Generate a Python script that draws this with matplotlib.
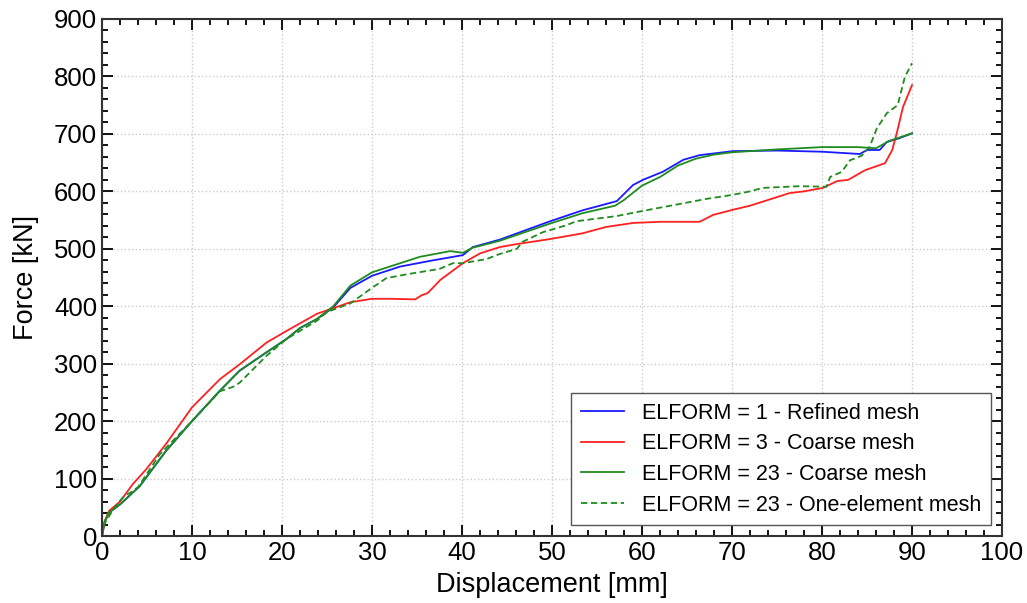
import matplotlib.pyplot as plt
from matplotlib.ticker import MultipleLocator

plt.rcParams['font.family'] = ['Liberation Sans', 'DejaVu Sans']

# ELFORM = 1 - Refined mesh
refined_x = [0, 0.3, 0.8, 2, 4.2, 7.1, 10, 13.1, 15.3, 18.3, 20.5, 22, 23.9, 25.7, 27.6, 30, 33.1,
             36.8, 40.1, 41.2, 44.2, 49.8, 53.4, 57.2, 59, 60.1, 62.3, 64.6, 66.4, 70.1, 75, 80,
             84.2, 85, 86.4, 87.2, 88.5, 90]
refined_y = [0, 25, 41, 55, 87, 148, 200, 253, 288, 320, 343, 362, 378, 398, 432, 453, 469,
             480, 489, 503, 516, 548, 567, 583, 611, 620, 634, 655, 663, 670, 671, 669,
             665, 672, 672, 686, 692, 701]

# ELFORM = 3 - Coarse mesh
coarse3_x = [0, 0.3, 0.8, 2, 3.4, 4.9, 7.1, 10, 13.1, 15.3, 18.3, 20.5, 23.9, 27.6, 30, 32,
             34.8, 35.5, 36.2, 37.6, 40.1, 42, 44.2, 46, 49.8, 53.4, 56, 59, 62, 66.4, 67.9,
             70.1, 72, 74, 76.4, 78, 80.1, 81.7, 82.9, 84.8, 87, 87.8, 88.3, 89, 90]
coarse3_y = [0, 26, 44, 60, 90, 116, 160, 224, 273, 299, 337, 357, 387, 407, 413, 413,
             412, 419, 423, 446, 475, 492, 503, 508, 517, 527, 538, 545, 547, 547, 559,
             568, 575, 585, 597, 600, 606, 618, 620, 637, 649, 672, 701, 747, 785]

# ELFORM = 23 - Coarse mesh
coarse23_x = [0, 0.3, 0.8, 2, 4.2, 7.1, 10, 13.1, 15.3, 18.3, 20.5, 22, 23.9, 25.7, 27.6, 30,
              35.3, 38.7, 40.1, 41.2, 44.2, 49.8, 53.4, 57, 58, 60, 62, 64, 66, 68, 70, 75,
              80, 84, 86, 87.5, 90]
coarse23_y = [0, 25, 41, 55, 87, 148, 200, 253, 288, 320, 343, 362, 378, 400, 436, 459,
              486, 496, 493, 502, 514, 544, 562, 575, 585, 610, 625, 645, 657, 664, 668, 673,
              677, 677, 675, 688, 701]

# ELFORM = 23 - One-element mesh
one_elem_x = [0, 0.3, 1, 1.9, 2.5, 3.2, 4, 6.4, 10, 13.1, 14.6, 15.3, 18.3, 20.5, 23.9, 25,
              27.6, 30, 31.6, 34, 37.5, 39, 40.1, 42.7, 44.2, 46.1, 46.7, 49, 51.6, 52.7,
              57.2, 60.1, 63.5, 67.2, 70.1, 72, 73.4, 77.5, 80.5, 80.9, 82.2, 83.1, 84.4,
              85.3, 86.1, 87.2, 88.4, 89.2, 90]
one_elem_y = [0, 22, 40, 60, 70, 76, 85, 142, 200, 252, 260, 267, 314, 343, 375, 390,
              405, 432, 449, 456, 465, 475, 475, 482, 491, 500, 512, 529, 541, 548,
              557, 566, 576, 587, 594, 600, 606, 609, 608, 625, 634, 654, 662,
              678, 710, 736, 750, 799, 823]

fig, ax = plt.subplots(figsize=(10.27, 6.03), dpi=100)
fig.subplots_adjust(left=0.0993, right=0.9757, top=0.9685, bottom=0.111)

ax.plot(refined_x, refined_y, color='#1a1aff', lw=1.3, label='ELFORM = 1 - Refined mesh')
ax.plot(coarse3_x, coarse3_y, color='#ff2020', lw=1.3, label='ELFORM = 3 - Coarse mesh')
ax.plot(coarse23_x, coarse23_y, color='#1e8c1e', lw=1.3, label='ELFORM = 23 - Coarse mesh')
ax.plot(one_elem_x, one_elem_y, color='#1e8c1e', lw=1.3, ls=(0, (3.5, 2)),
        label='ELFORM = 23 - One-element mesh')

ax.set_xlim(0, 100)
ax.set_ylim(0, 900)
ax.xaxis.set_major_locator(MultipleLocator(10))
ax.xaxis.set_minor_locator(MultipleLocator(2))
ax.yaxis.set_major_locator(MultipleLocator(100))
ax.yaxis.set_minor_locator(MultipleLocator(20))
ax.tick_params(which='both', direction='in', top=True, right=True, width=1.3, labelsize=18.5)
ax.tick_params(which='major', length=8)
ax.tick_params(which='minor', length=4.5)
for s in ax.spines.values():
    s.set_linewidth(1.5)
    s.set_color('#333333')

ax.grid(True, which='major', ls=':', color='#cccccc', lw=1)
ax.set_xlabel('Displacement [mm]', fontsize=19.5, labelpad=5)
ax.set_ylabel('Force [kN]', fontsize=19.5, labelpad=11)

leg = ax.legend(loc='lower right', fontsize=15.5, fancybox=False, framealpha=1,
                edgecolor='#555555', handlelength=2.0, labelspacing=0.45,
                borderaxespad=0.5, handletextpad=0.85, borderpad=0.45)
leg.get_frame().set_linewidth(1.0)

plt.savefig('out.png', dpi=100)
